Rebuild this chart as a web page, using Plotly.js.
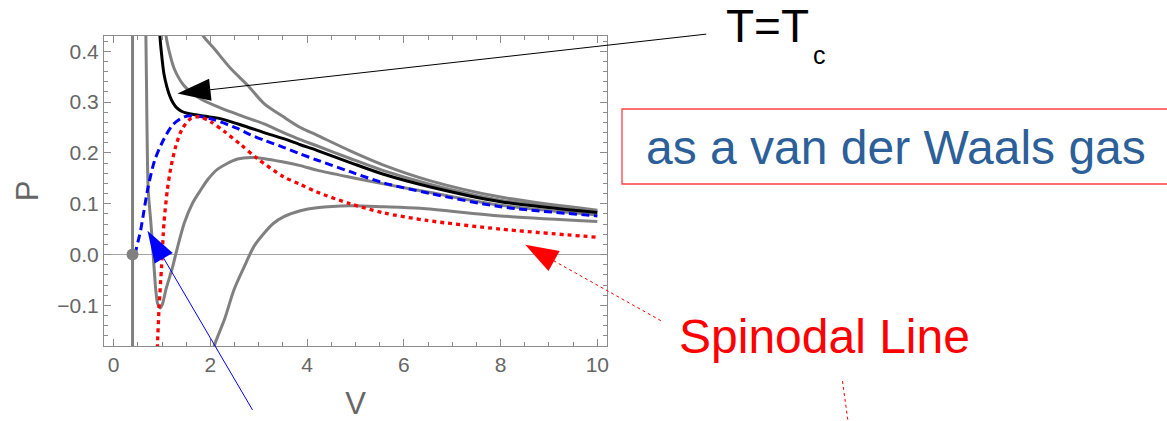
<!DOCTYPE html>
<html><head><meta charset="utf-8">
<script src="https://cdn.plot.ly/plotly-3.0.1.min.js"></script>
<style>html,body{margin:0;padding:0;background:#fff}</style>
</head><body><div id="chart" style="width:1167px;height:421px"></div>
<script>
// ---- data ----
const vWall = [0.39, 0.39];
const pWall = [-0.2, 0.45];

const vLowT = [0.655,0.666,0.686,0.714,0.77,0.82,0.87,0.91,0.96,1.01,1.08,1.22,1.29,1.46,1.63,1.80,1.95,2.15,2.56,2.90,3.51,3.86,4.20,4.89,5.58,6.55,8.0,10.0];
const pLowT = [0.45,0.43,0.274,0.127,0.062,-0.004,-0.069,-0.097,-0.105,-0.097,-0.069,-0.024,0.003,0.062,0.101,0.127,0.148,0.168,0.188,0.191,0.182,0.175,0.166,0.152,0.139,0.122,0.097,0.078];

const vLowest = [2.05,2.08,2.29,2.49,2.70,2.90,3.11,3.30,3.51,3.86,4.20,4.89,5.58,6.34,8.0,10.0];
const pLowest = [-0.20,-0.18,-0.128,-0.069,-0.024,0.016,0.042,0.061,0.074,0.086,0.092,0.096,0.094,0.091,0.076,0.065];

const vCrit = [0.95,0.955,0.985,1.04,1.10,1.16,1.23,1.30,1.40,1.52,1.70,1.90,2.22,2.70,3.11,3.51,3.86,4.20,4.89,5.58,6.55,8.0,10.0];
const pCrit = [0.45,0.432,0.399,0.355,0.330,0.312,0.298,0.289,0.282,0.278,0.275,0.272,0.267,0.253,0.240,0.228,0.216,0.205,0.181,0.158,0.133,0.104,0.0825];

const vWarm = [1.07,1.08,1.15,1.25,1.44,1.62,1.80,2.22,2.70,3.11,3.51,3.86,4.20,4.89,5.58,6.55,8.0,10.0];
const pWarm = [0.45,0.432,0.399,0.366,0.334,0.318,0.306,0.288,0.271,0.257,0.240,0.226,0.214,0.189,0.165,0.138,0.107,0.085];

const vHot = [1.80,1.84,2.08,2.42,2.77,3.11,3.51,3.86,4.20,4.89,5.58,6.55,8.0,10.0];
const pHot = [0.45,0.432,0.405,0.366,0.333,0.297,0.271,0.250,0.235,0.204,0.176,0.145,0.113,0.087];

const vCoex = [0.44,0.47,0.56,0.63,0.70,0.84,1.01,1.22,1.46,1.73,2.08,2.56,2.82,3.11,3.51,3.86,4.20,4.89,5.58,6.55,8.0,10.0];
const pCoex = [0.0,0.012,0.049,0.088,0.127,0.183,0.222,0.255,0.271,0.2725,0.265,0.248,0.236,0.225,0.211,0.198,0.186,0.163,0.141,0.120,0.094,0.076];

const vSpin = [0.90,0.905,0.94,0.99,1.04,1.11,1.18,1.29,1.42,1.60,1.77,2.01,2.29,2.63,2.97,3.51,3.86,4.20,4.89,5.58,6.48,8.0,10.0];
const pSpin = [-0.20,-0.18,-0.102,-0.024,0.062,0.127,0.170,0.215,0.248,0.268,0.271,0.261,0.242,0.216,0.189,0.153,0.138,0.123,0.100,0.082,0.067,0.050,0.034];

const vDot = [0.39];
const pDot = [0.0];

const xTickVals = [0,2,4,6,8,10];
const yTickVals = [-0.1,0.0,0.1,0.2,0.3,0.4];

// annotation arrow tips (data coords)
const tipV = [1.32, 0.70, 8.51];
const tipP = [0.317, 0.047, 0.019];

// ---- layout helpers ----
const xRange = [-0.2, 10.2], yRange = [-0.18, 0.43];
const W = 1167, H = 421, mL = 104, mR = 560, mT = 36, mB = 75;
const plotW = W - mL - mR, plotH = H - mT - mB;
const paperX = v => (v - xRange[0]) / (xRange[1] - xRange[0]);
const paperY = p => (p - yRange[0]) / (yRange[1] - yRange[0]);
const pxX = px => (px - mL) / plotW;
const pxY = py => (H - mB - py) / plotH;

function arrow(v, p, dx, dy, L, Wd, color, dash, lw) {
  const ax = paperX(v), ay = paperY(p);
  const len = Math.hypot(dx, dy), ux = dx / len, uy = dy / len;
  const nx = -uy, ny = ux;
  const bx = ux * L, by = uy * L;
  const c1x = bx + nx * Wd, c1y = by + ny * Wd, c2x = bx - nx * Wd, c2y = by - ny * Wd;
  const common = {xref: 'paper', yref: 'paper', xsizemode: 'pixel', ysizemode: 'pixel', xanchor: ax, yanchor: ay, layer: 'above'};
  return [
    Object.assign({type: 'line', x0: bx * 0.8, y0: -by * 0.8, x1: dx, y1: -dy, line: {color: color, width: lw, dash: dash}}, common),
    Object.assign({type: 'path', path: `M0,0 L${c1x.toFixed(2)},${(-c1y).toFixed(2)} L${c2x.toFixed(2)},${(-c2y).toFixed(2)} Z`, fillcolor: color, line: {width: 0}}, common)
  ];
}

const gray = '#808080';
const lineTrace = (x, y, color, width, dash) => ({
  x: x, y: y, type: 'scatter', mode: 'lines', hoverinfo: 'skip', showlegend: false,
  line: {color: color, width: width, dash: dash || 'solid', shape: 'spline', smoothing: 0.8}
});

const data = [
  lineTrace(vWall, pWall, gray, 3),
  lineTrace(vLowT, pLowT, gray, 3),
  lineTrace(vLowest, pLowest, gray, 3),
  lineTrace(vHot, pHot, gray, 3),
  lineTrace(vWarm, pWarm, gray, 3),
  lineTrace(vCrit, pCrit, '#000000', 3),
  lineTrace(vCoex, pCoex, '#0000ff', 3, '8px,4.5px'),
  lineTrace(vSpin, pSpin, '#ff0000', 3.3, '4px,4px'),
  {x: vDot, y: pDot, type: 'scatter', mode: 'markers', hoverinfo: 'skip', showlegend: false,
   marker: {color: gray, size: 12}, cliponaxis: false}
];

const axisCommon = {
  showgrid: false, showline: true, linecolor: '#8c8c8c', linewidth: 1, mirror: 'ticks',
  ticks: 'inside', ticklen: 7, tickcolor: '#8c8c8c', tickwidth: 1,
  tickfont: {family: 'Liberation Sans, Arial, sans-serif', size: 21, color: '#666666'},
  fixedrange: true
};

const shapes = [].concat(
  arrow(tipV[0], tipP[0], 528.7, -59.3, 33, 11, '#000000', 'solid', 1),
  arrow(tipV[1], tipP[1], 105, 179.3, 32, 10.5, '#0000ff', 'solid', 1),
  arrow(tipV[2], tipP[2], 136, 76, 33, 11.5, '#ff0000', '3px,3px', 1),
  [
    {type: 'line', xref: 'paper', yref: 'paper', x0: pxX(842.5), y0: pxY(381), x1: pxX(848.5), y1: pxY(425),
     line: {color: '#ff0000', width: 1, dash: '3px,3px'}},
    {type: 'rect', xref: 'paper', yref: 'paper', x0: pxX(622), y0: pxY(109), x1: pxX(1172), y1: pxY(184),
     line: {color: '#ff4040', width: 1.3}, fillcolor: 'rgba(0,0,0,0)'}
  ]
);

const font = 'Liberation Sans, Arial, sans-serif';
const annotations = [
  {text: 'T=T', x: pxX(724), y: pxY(26), xref: 'paper', yref: 'paper', xanchor: 'left', yanchor: 'middle', showarrow: false,
   font: {family: font, size: 46, color: '#000000'}},
  {text: 'c', x: pxX(811), y: pxY(55), xref: 'paper', yref: 'paper', xanchor: 'left', yanchor: 'middle', showarrow: false,
   font: {family: font, size: 25, color: '#000000'}},
  {text: 'as a van der Waals gas', x: pxX(644), y: pxY(147), xref: 'paper', yref: 'paper', xanchor: 'left', yanchor: 'middle', showarrow: false,
   font: {family: font, size: 48, color: '#2d5f99'}},
  {text: 'Spinodal Line', x: pxX(677), y: pxY(336), xref: 'paper', yref: 'paper', xanchor: 'left', yanchor: 'middle', showarrow: false,
   font: {family: font, size: 48, color: '#ff0000'}}
];

const layout = {
  width: W, height: H, margin: {l: mL, r: mR, t: mT, b: mB, pad: 0},
  paper_bgcolor: '#ffffff', plot_bgcolor: '#ffffff', showlegend: false,
  xaxis: Object.assign({}, axisCommon, {
    range: xRange, tickvals: xTickVals, ticktext: xTickVals.map(String), zeroline: false,
    minor: {ticks: 'inside', dtick: 0.5, tick0: 0, ticklen: 4, tickcolor: '#8c8c8c', tickwidth: 1, showgrid: false},
    title: {text: 'V', font: {family: font, size: 31, color: '#666666'}, standoff: 20}
  }),
  yaxis: Object.assign({}, axisCommon, {
    range: yRange, tickvals: yTickVals, tickformat: '.1f',
    zeroline: true, zerolinecolor: '#a6a6a6', zerolinewidth: 1.6,
    minor: {ticks: 'inside', dtick: 0.02, tick0: 0, ticklen: 4, tickcolor: '#8c8c8c', tickwidth: 1, showgrid: false},
    title: {text: 'P', font: {family: font, size: 31, color: '#666666'}, standoff: 9}
  }),
  shapes: shapes,
  annotations: annotations
};

Plotly.newPlot('chart', data, layout, {staticPlot: true, displayModeBar: false});
</script>
</body></html>
